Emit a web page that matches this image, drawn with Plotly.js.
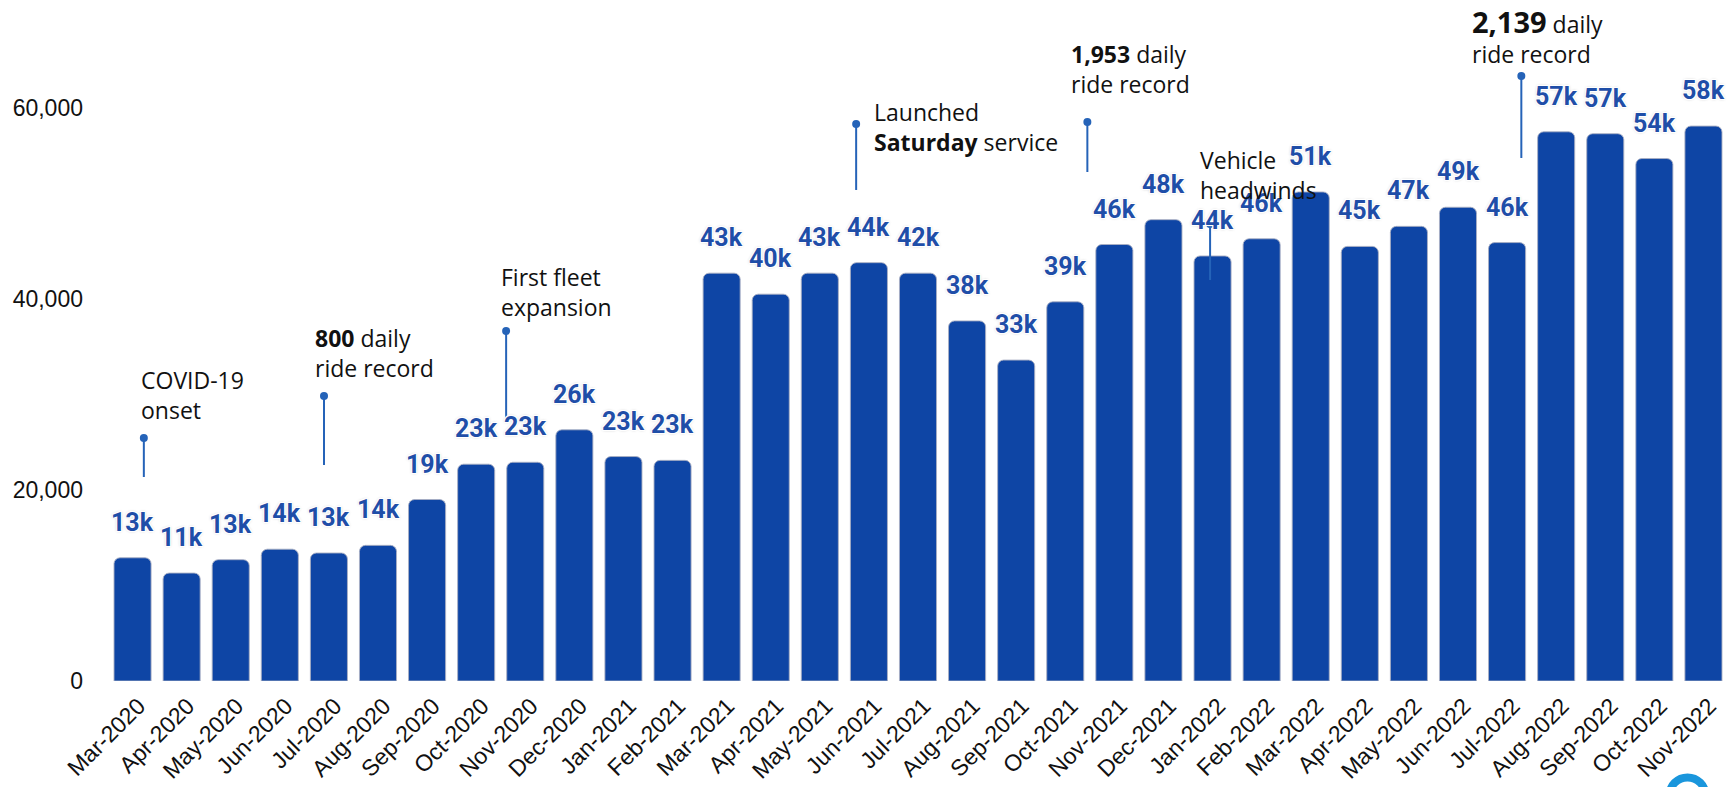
<!DOCTYPE html>
<html>
<head>
<meta charset="utf-8">
<script src="https://cdn.plot.ly/plotly-3.0.1.min.js"></script>
<style>
  html, body { margin: 0; padding: 0; background: #fff; }
  #chart { width: 1736px; height: 787px; }
</style>
</head>
<body>
<div id="chart"></div>
<script>
// ---- data ----
const months = ['Mar-2020','Apr-2020','May-2020','Jun-2020','Jul-2020','Aug-2020','Sep-2020','Oct-2020','Nov-2020','Dec-2020',
  'Jan-2021','Feb-2021','Mar-2021','Apr-2021','May-2021','Jun-2021','Jul-2021','Aug-2021','Sep-2021','Oct-2021','Nov-2021','Dec-2021',
  'Jan-2022','Feb-2022','Mar-2022','Apr-2022','May-2022','Jun-2022','Jul-2022','Aug-2022','Sep-2022','Oct-2022','Nov-2022'];
const rides = [12900, 11300, 12700, 13800, 13400, 14200, 19000, 22700, 22900, 26300,
  23500, 23100, 42700, 40500, 42700, 43800, 42700, 37700, 33600, 39700, 45700, 48300,
  44500, 46300, 51200, 45500, 47600, 49600, 45900, 57500, 57300, 54700, 58100];
const rideLabels = ['13k','11k','13k','14k','13k','14k','19k','23k','23k','26k',
  '23k','23k','43k','40k','43k','44k','42k','38k','33k','39k','46k','48k',
  '44k','46k','51k','45k','47k','49k','46k','57k','57k','54k','58k'];
const yTicks = [0, 20000, 40000, 60000];
const eventTexts = [
  'COVID-19<br>onset',
  '<b>800</b> daily<br>ride record',
  'First fleet<br>expansion',
  'Launched<br><b>Saturday</b> service',
  '<b>1,953</b> daily<br>ride record',
  'Vehicle<br>headwinds',
  '<b style="font-size:29px">2,139</b> daily<br>ride record'
];

// ---- layout placement of the event call-outs (category index / axis units) ----
const eventPlace = [
  {tx: 0.126, ty: 33400, dx: 0.23,  dy: 25440, dy2: 21360},
  {tx: 3.667, ty: 37800, dx: 3.90,  dy: 29840, dy2: 22610},
  {tx: 7.457, ty: 44180, dx: 7.61,  dy: 36640, dy2: 27540},
  {tx: 15.06, ty: 61460, dx: 14.74, dy: 58320, dy2: 51410},
  {tx: 19.07, ty: 67480, dx: 19.45, dy: 58530, dy2: 53290},
  {tx: 21.71, ty: 56470, dx: 21.95, dy: 47850, dy2: 41980},
  {tx: 27.24, ty: 71300, dx: 28.29, dy: 63340, dy2: 54760}
];

const barColor = '#0e45a5';
const labelColor = '#1f4ea8';
const pinColor = '#2563b8';
const halo = '1px 1px 0 #fff, -1px -1px 0 #fff, 1px -1px 0 #fff, -1px 1px 0 #fff, 0 0 3px #aaa';

const trace = {
  type: 'bar',
  x: months,
  y: rides,
  marker: { color: barColor, cornerradius: 6, line: { color: 'rgba(170,175,195,0.9)', width: 1 } },
  hoverinfo: 'x+y'
};

const annotations = [];
months.forEach((m, i) => {
  annotations.push({
    x: m, y: rides[i], xref: 'x', yref: 'y',
    text: rideLabels[i], showarrow: false,
    xanchor: 'center', yanchor: 'bottom', yshift: 19,
    font: { family: 'Roboto, Arial, sans-serif', size: 25, weight: 700, color: labelColor, shadow: halo }
  });
});
eventTexts.forEach((t, i) => {
  const p = eventPlace[i];
  annotations.push({
    x: p.tx, y: p.ty, xref: 'x', yref: 'y',
    text: t, showarrow: false, align: 'left',
    xanchor: 'left', yanchor: 'top',
    font: { family: '"Open Sans", "Noto Sans", sans-serif', size: 23, color: '#111' }
  });
});

const shapes = [];
eventPlace.forEach(p => {
  shapes.push({ type: 'line', xref: 'x', yref: 'y', x0: p.dx, x1: p.dx, y0: p.dy2, y1: p.dy,
    line: { color: pinColor, width: 2 } });
  shapes.push({ type: 'circle', xref: 'x', yref: 'y', xsizemode: 'pixel', ysizemode: 'pixel',
    xanchor: p.dx, yanchor: p.dy, x0: -4, x1: 4, y0: -4, y1: 4,
    fillcolor: pinColor, line: { color: pinColor, width: 0 } });
});
// partial logo ring at the bottom right corner
shapes.push({ type: 'circle', xref: 'paper', yref: 'paper', xsizemode: 'pixel', ysizemode: 'pixel',
  xanchor: 0.975, yanchor: -0.168, x0: -18, x1: 18, y0: -18, y1: 18,
  fillcolor: 'rgba(0,0,0,0)', line: { color: '#1a96dc', width: 8 } });

const layout = {
  width: 1736, height: 787,
  margin: { l: 108, r: 8, t: 0, b: 106 },
  paper_bgcolor: '#fff', plot_bgcolor: '#fff',
  showlegend: false,
  bargap: 0.245,
  xaxis: {
    type: 'category',
    tickangle: -45,
    tickfont: { family: '"Liberation Sans", Arial, sans-serif', size: 23, color: '#111' },
    showgrid: false, zeroline: false, showline: false, ticks: '',
    ticklabelstandoff: 6,
    ticklabelshift: 6,
    fixedrange: true
  },
  yaxis: {
    range: [0, 71300],
    tickvals: yTicks,
    tickformat: ',',
    tickfont: { family: '"Liberation Sans", Arial, sans-serif', size: 23, color: '#111' },
    showgrid: false, zeroline: false, showline: false, ticks: '',
    ticklabelstandoff: 24,
    fixedrange: true
  },
  annotations: annotations,
  shapes: shapes
};

Plotly.newPlot('chart', [trace], layout, { displayModeBar: false, staticPlot: true });
</script>
</body>
</html>
